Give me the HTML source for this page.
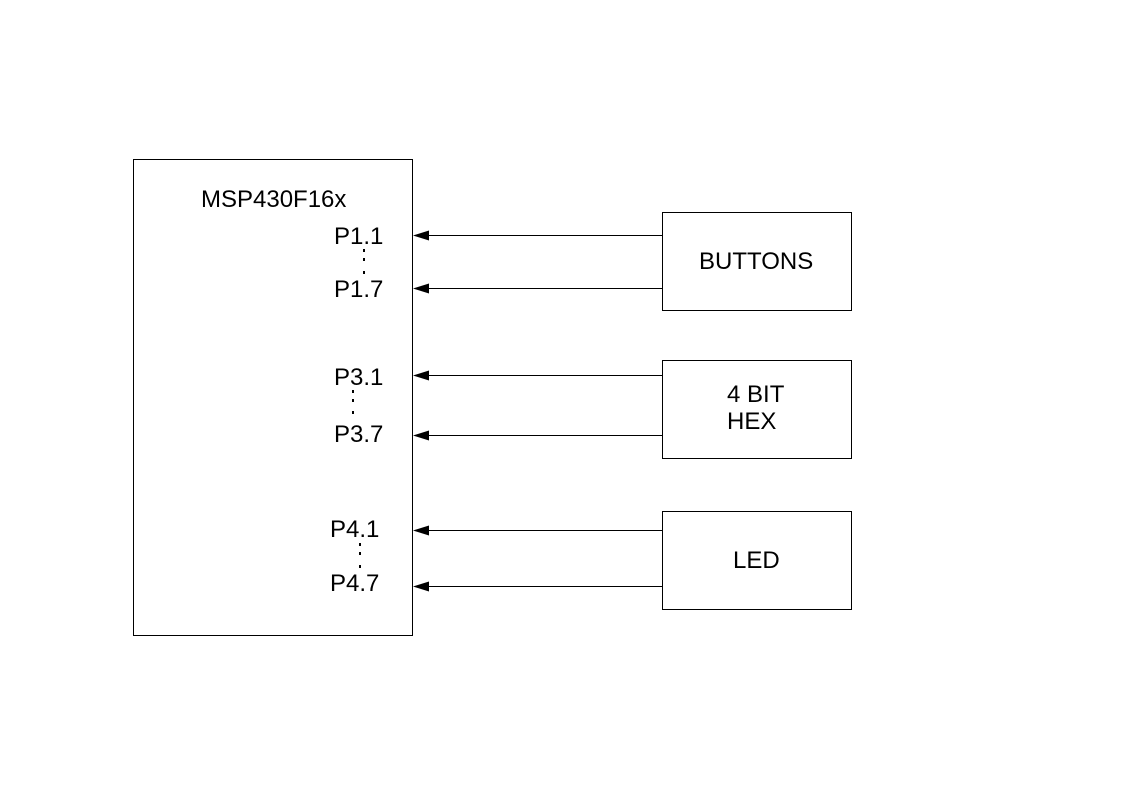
<!DOCTYPE html>
<html><head><style>body{margin:0;background:#fff}</style></head><body>
<svg width="1123" height="794" xmlns="http://www.w3.org/2000/svg" font-family="Liberation Sans, sans-serif" font-size="24" fill="#000">
<rect x="0" y="0" width="1123" height="794" fill="#fff"/>
<g fill="none" stroke="#000" stroke-width="1">
<rect x="133.5" y="159.5" width="279" height="476"/>
<rect x="662.5" y="212.5" width="189" height="98"/>
<rect x="662.5" y="360.5" width="189" height="98"/>
<rect x="662.5" y="511.5" width="189" height="98"/>
<line x1="428" y1="235.5" x2="662" y2="235.5"/>
<line x1="428" y1="288.5" x2="662" y2="288.5"/>
<line x1="428" y1="375.5" x2="662" y2="375.5"/>
<line x1="428" y1="435.5" x2="662" y2="435.5"/>
<line x1="428" y1="530.5" x2="662" y2="530.5"/>
<line x1="428" y1="586.5" x2="662" y2="586.5"/>
</g>
<g>
<polygon points="413,235.5 429,230.5 429,240.5"/>
<polygon points="413,288.5 429,283.5 429,293.5"/>
<polygon points="413,375.5 429,370.5 429,380.5"/>
<polygon points="413,435.5 429,430.5 429,440.5"/>
<polygon points="413,530.5 429,525.5 429,535.5"/>
<polygon points="413,586.5 429,581.5 429,591.5"/>
</g>
<g>
<rect x="363" y="249" width="2" height="3"/><rect x="363" y="258" width="2" height="3"/><rect x="363" y="271" width="2" height="3"/>
<rect x="352" y="390" width="2" height="3"/><rect x="352" y="399" width="2" height="3"/><rect x="352" y="411" width="2" height="3"/>
<rect x="359" y="543" width="2" height="3"/><rect x="359" y="552" width="2" height="3"/><rect x="359" y="565" width="2" height="3"/>
</g>
<text x="201" y="207">MSP430F16x</text>
<text x="334" y="244">P1.1</text>
<text x="334" y="297">P1.7</text>
<text x="334" y="385">P3.1</text>
<text x="334" y="442">P3.7</text>
<text x="330" y="537">P4.1</text>
<text x="330" y="591">P4.7</text>
<text x="699" y="269">BUTTONS</text>
<text x="727" y="402">4 BIT</text>
<text x="727" y="429">HEX</text>
<text x="733" y="568">LED</text>
</svg>
</body></html>
